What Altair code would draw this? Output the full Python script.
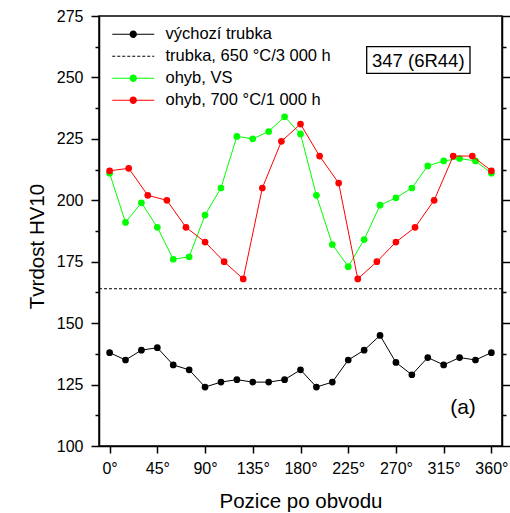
import altair as alt
import pandas as pd
import numpy as np

# ---------------- data ----------------
angles15 = list(range(0, 361, 15))   # 25 positions
angles18 = list(range(0, 361, 18))   # 21 positions

vychozi = [138, 135, 139, 140, 133, 131, 124, 126, 127, 126, 126, 127, 131,
           124, 126, 135, 139, 145, 134, 129, 136, 133, 136, 135, 138]
ohyb_vs = [211, 191, 199, 189, 176, 177, 194, 205, 226, 225, 228, 234, 227,
           202, 182, 173, 184, 198, 201, 205, 214, 216, 217, 216, 211]
ohyb_700 = [212, 213, 202, 200, 189, 183, 175, 168, 205, 224, 231,
            218, 207, 168, 175, 183, 189, 200, 218, 218, 212]
trubka_650 = [164]

series_names = ["výchozí trubka", "trubka, 650 °C/3 000 h", "ohyb, VS", "ohyb, 700 °C/1 000 h"]
series_colors = ["#000000", "#000000", "#00ff00", "#ff0000"]
x_tick_values = [0, 45, 90, 135, 180, 225, 270, 315, 360]
y_tick_values = [100 + 12.5 * i for i in range(15)]

FONT = "Liberation Sans"

# ---------------- legend symbols (custom paths) ----------------
def bar(x0, x1, h=0.13):
    return f"M{x0:.3f},{-h}H{x1:.3f}V{h}H{x0:.3f}Z"

circle = "M-0.92,0A0.92,0.92,0,1,1,0.92,0A0.92,0.92,0,1,1,-0.92,0Z"
solid_sym = bar(-5.25, 5.25) + circle
dash_parts = []
a = -5.25
while a < 5.25:
    dash_parts.append(bar(a, min(a + 0.75, 5.25)))
    a += 1.25
dash_sym = "".join(dash_parts)
shape_paths = [solid_sym, dash_sym, solid_sym, solid_sym]

# ---------------- frames ----------------
df_black = pd.DataFrame({"pos": angles15, "hv": vychozi})
df_green = pd.DataFrame({"pos": angles15, "hv": ohyb_vs})
df_red = pd.DataFrame({"pos": angles18, "hv": ohyb_700})
df_dash = pd.DataFrame({"hv": trubka_650})
df_leg = pd.DataFrame({
    "series": series_names,
    "pos": [angles15[0], angles15[0], angles15[0], angles18[0]],
    "hv": [vychozi[0], trubka_650[0], ohyb_vs[0], ohyb_700[0]],
})

xscale = alt.Scale(domain=[-10, 370], nice=False, zero=False)
yscale = alt.Scale(domain=[100, 275], nice=False, zero=False)

tick_cond = {"condition": {"test": "datum.value % 25 === 0", "value": 8}, "value": 4}

x_axis = alt.Axis(title="Pozice po obvodu", values=x_tick_values,
                  labelExpr="datum.value + '°'", tickSize=7, labelPadding=7,
                  labelFlush=False, labelOverlap=False,
                  titleX=201.5, titleY=61, titleBaseline="alphabetic")
left_axis = alt.Axis(title="Tvrdost HV10", values=y_tick_values,
                     labelExpr="datum.value % 25 === 0 ? datum.label : ''",
                     tickSize=tick_cond, labelPadding=8, labelFlush=False,
                     labelOverlap=False, titleAngle=270, titleX=-56, titleY=230,
                     titleBaseline="alphabetic", titleAlign="center")
right_axis = alt.Axis(orient="right", title=None, values=y_tick_values,
                      labels=False, tickSize=tick_cond)

xenc = alt.X("pos:Q", scale=xscale, axis=x_axis)

black_line = alt.Chart(df_black).mark_line(color="black", strokeWidth=1).encode(
    x=xenc, y=alt.Y("hv:Q", scale=yscale, axis=left_axis))
black_pts = alt.Chart(df_black).mark_circle(color="black", size=45, opacity=1).encode(
    x=xenc, y=alt.Y("hv:Q", scale=yscale, axis=None))
dash_rule = alt.Chart(df_dash).mark_rule(color="black", strokeWidth=1, strokeDash=[3, 2]).encode(
    y=alt.Y("hv:Q", scale=yscale, axis=right_axis))
green_line = alt.Chart(df_green).mark_line(color="#00ff00", strokeWidth=1).encode(
    x=xenc, y=alt.Y("hv:Q", scale=yscale, axis=None))
green_pts = alt.Chart(df_green).mark_circle(color="#00ff00", size=45, opacity=1).encode(
    x=xenc, y=alt.Y("hv:Q", scale=yscale, axis=None))
red_line = alt.Chart(df_red).mark_line(color="#ff0000", strokeWidth=1).encode(
    x=xenc, y=alt.Y("hv:Q", scale=yscale, axis=None))
red_pts = alt.Chart(df_red).mark_circle(color="#ff0000", size=45, opacity=1).encode(
    x=xenc, y=alt.Y("hv:Q", scale=yscale, axis=None))

leg = alt.Legend(title=None, orient="none", legendX=26, legendY=10, padding=0,
                 symbolSize=64, symbolStrokeWidth=0, symbolOpacity=1,
                 symbolOffset=0, labelOffset=24, rowPadding=5,
                 labelFont=FONT, labelFontSize=16.5, labelColor="black",
                 labelLimit=400)
legend_layer = alt.Chart(df_leg).mark_point(filled=True, opacity=0).encode(
    x=xenc, y=alt.Y("hv:Q", scale=yscale, axis=None),
    color=alt.Color("series:N", scale=alt.Scale(domain=series_names, range=series_colors),
                    sort=None, legend=leg),
    shape=alt.Shape("series:N", scale=alt.Scale(domain=series_names, range=shape_paths),
                    sort=None, legend=leg),
)

df_box = pd.DataFrame({"t": ["347 (6R44)"]})
box = alt.Chart(df_box).mark_rect(fill="white", stroke="black", strokeWidth=1.3).encode(
    x=alt.value(267.7), x2=alt.value(371), y=alt.value(30.7), y2=alt.value(57.3))
box_text = alt.Chart(df_box).mark_text(font=FONT, fontSize=18.5, color="black",
                                       align="center", baseline="middle").encode(
    x=alt.value(319.3), y=alt.value(44.5), text="t:N")
df_a = pd.DataFrame({"t": ["(a)"]})
a_text = alt.Chart(df_a).mark_text(font=FONT, fontSize=21, color="black",
                                   align="center", baseline="middle").encode(
    x=alt.value(364), y=alt.value(391.5), text="t:N")

chart = alt.layer(
    black_line, black_pts, dash_rule, green_line, green_pts, red_line, red_pts,
    legend_layer, box, box_text, a_text
).resolve_axis(y="independent").properties(
    width=403, height=430,
    padding={"left": 99, "top": 16, "right": 8, "bottom": 67},
    autosize=alt.AutoSizeParams(type="none"),
    background="white",
).configure_view(
    stroke="black", strokeWidth=1.5
).configure_axis(
    domainColor="black", domainWidth=1.5, tickColor="black", tickWidth=1.5,
    labelFont=FONT, labelFontSize=16, labelColor="black",
    titleFont=FONT, titleFontSize=20.5, titleFontWeight="normal", titleColor="black",
    grid=False,
)

chart.save("out.html", embed_options={"renderer": "svg", "actions": False})
